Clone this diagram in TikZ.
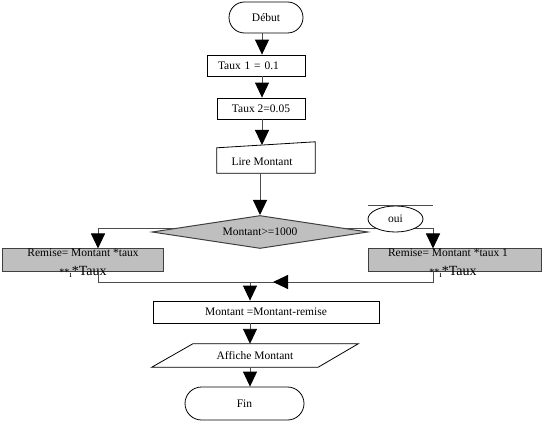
\documentclass[tikz,border=0pt]{standalone}
\usepackage{fontspec}
\setmainfont{Liberation Serif}
\usetikzlibrary{arrows.meta,shapes.geometric,shapes.misc,calc,backgrounds}
\begin{document}
\begin{tikzpicture}[x=1pt,y=-1pt,
  font=\fontsize{11.5}{13}\selectfont,
  box/.style={draw=black,line width=0.8pt,fill=white,inner sep=0pt},
  term/.style={draw=black,line width=0.8pt,fill=white,rounded rectangle,inner sep=0pt},
  graybox/.style={draw=black!75,line width=1pt,fill=black!25,inner sep=0pt},
  conn/.style={draw=black!70,line width=0.9pt},
  arr/.style={conn,-{Triangle[length=15pt,width=14pt,color=black]}},
  big/.style={font=\fontsize{14}{14}\selectfont},
  sm/.style={font=\fontsize{8}{8}\selectfont}]
\useasboundingbox (0,0) rectangle (545,435);

% nodes
\node[term,minimum width=74pt,minimum height=31pt] (debut) at (266,17.5) {Début};
\node[box,minimum width=98pt,minimum height=21pt,text width=76pt,align=left,inner xsep=11pt] (t1) at (256,65.5) {Taux 1 = 0.1};
\node[box,minimum width=88pt,minimum height=21pt] (t2) at (261,108.5) {Taux 2=0.05};
\node[minimum width=98pt,minimum height=25pt,inner sep=0pt] (lire) at (266,160.5) {};
\draw[line width=0.8pt,fill=white] (lire.south west) -- (lire.south east) -- ($(lire.north east)+(0,-6)$) -- (lire.north west) -- cycle;
\node (liretxt) at (262,162) {Lire Montant};

% coordinates
\coordinate (lx) at (98,228);
\coordinate (rx) at (433,228);
\coordinate (lj) at (98,282);
\coordinate (rj) at (433,282);
\coordinate (mj) at (250,282);
\coordinate (ah) at (300,282);
\coordinate (at) at (273,282);

\node[graybox,diamond,minimum width=216pt,minimum height=33pt,aspect=6.5,fill=black!25] (dia) at (260,232) {};
\node (diatxt) at (260,232) {Montant>=1000};

\node[graybox,minimum width=161pt,minimum height=22pt] (lb) at (82.5,260) {};
\node[graybox,minimum width=173pt,minimum height=22pt] (rb) at (454.5,260) {};
\node[inner sep=0pt] (lb1) at (83,253) {Remise= Montant *taux};
\node[inner sep=0pt] (rb1) at (448,253) {Remise= Montant *taux 1};
\node[inner sep=0pt,anchor=base] (lb2) at (83,275) {{\fontsize{10}{10}\selectfont **}\raisebox{-2pt}{\fontsize{9}{9}\selectfont ı}{\fontsize{14}{14}\selectfont *Taux}};
\node[inner sep=0pt,anchor=base] (rb2) at (453,275) {{\fontsize{10}{10}\selectfont **}\raisebox{-2pt}{\fontsize{9}{9}\selectfont ı}{\fontsize{14}{14}\selectfont *Taux}};

\node[draw=black,line width=0.8pt,fill=white,ellipse,minimum width=55pt,minimum height=26pt,inner sep=0pt] (oui) at (395.5,219) {oui};
\coordinate (ouil) at (368,205);
\coordinate (ouir) at (433,205);
\draw[conn] (ouil) -- (ouir);

\node[box,minimum width=226pt,minimum height=22pt] (mb) at (266,312) {Montant =Montant-remise};
\node[minimum width=206pt,minimum height=23pt,inner sep=0pt] (aff) at (255,355.5) {};
\draw[line width=0.8pt,fill=white] ($(aff.north west)+(41,0)$) -- (aff.north east) -- ($(aff.south east)+(-40,0)$) -- (aff.south west) -- cycle;
\node (afftxt) at (255,356) {Affiche Montant};
\node[term,minimum width=119pt,minimum height=33pt] (fin) at (244.5,403.5) {Fin};

\begin{scope}[on background layer]
\draw[conn] ($(dia.center)+(0,-4)$) -- (lx);
\draw[conn] ($(dia.center)+(0,-4)$) -- (rx);
\end{scope}

% connectors
\draw[arr] (debut.south -| 262,0) -- (t1.north -| 262,0);
\draw[arr] (t1.south -| 262,0) -- (t2.north -| 262,0);
\draw[arr] (t2.south -| 262,0) -- (262,145);
\draw[arr] (lire.south -| dia.north) -- (dia.north);
\draw[arr] (lx) -- (lb.north -| lx);
\draw[arr] (rx) -- (rb.north -| rx);
\draw[conn] (lb.south -| lj) -- (lj) -- (rj) -- (rb.south -| rj);
\draw[arr] (ah) -- (at);
\draw[arr] (mj) -- (mb.north -| mj);
\draw[arr] (mb.south -| mj) -- (aff.north -| mj);
\draw[arr] (aff.south -| mj) -- (fin.north -| mj);
\end{tikzpicture}
\end{document}
